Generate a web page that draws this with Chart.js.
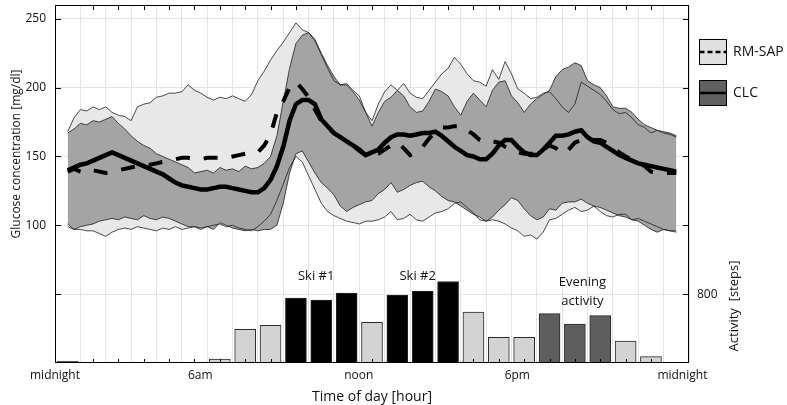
<!DOCTYPE html>
<html>
<head>
<meta charset="utf-8">
<script src="https://cdn.jsdelivr.net/npm/chart.js@4.4.1/dist/chart.umd.min.js"></script>
<style>
  html, body { margin: 0; padding: 0; background: #fff; }
  #wrap { width: 787px; height: 405px; }
</style>
</head>
<body>
<div id="wrap"><canvas id="c" width="787" height="405"></canvas></div>
<script>
// glucose traces, one value every 15 minutes from midnight to midnight
const times = Array.from({ length: 97 }, (_, i) => i / 4);

const rmHi = [168,178,184,183,186,184,186,182,180,179,176,186,188,189,193,194,196,196,197,202,198,196,193,191,
  193,192,194,192,190,195,205,212,220,227,233,240,247,242,240,234,224,214,205,202,203,198,194,182,
  176,188,197,202,198,203,196,193,192,198,204,210,214,222,217,210,205,204,201,213,206,219,210,199,
  196,192,193,196,197,192,186,182,188,204,201,198,195,190,184,181,182,178,173,171,167,169,167,166,164];

const rmLo = [99,97,97,96,96,94,92,95,97,98,97,99,98,97,96,98,97,99,97,98,99,97,99,100,
  101,99,100,98,97,96,99,103,108,118,130,142,150,146,136,126,116,110,107,105,103,102,101,103,
  103,104,106,110,104,105,108,104,103,106,109,110,112,116,117,113,109,104,103,104,103,101,98,96,
  92,93,90,95,104,105,108,111,113,110,111,114,110,107,106,108,108,104,105,103,101,99,97,96,95];

const clcHi = [167,170,174,173,176,175,177,179,174,170,165,161,158,156,152,150,148,146,144,142,138,139,140,138,
  142,140,141,139,143,141,142,145,150,165,190,214,232,238,240,235,225,216,208,202,202,197,191,182,
  172,182,190,193,198,194,186,182,183,190,199,197,194,186,180,190,196,191,186,198,204,205,194,189,
  182,188,192,195,198,208,213,215,218,216,205,202,200,194,186,185,185,182,177,173,171,169,168,167,165];

const clcLo = [101,97,99,100,101,103,104,105,104,106,105,104,107,105,104,106,105,103,101,99,99,98,99,97,
  102,100,98,97,96,97,96,97,97,100,116,138,152,154,146,138,131,127,122,114,110,113,115,117,
  118,123,126,131,124,126,129,131,132,128,125,121,118,117,114,111,108,106,103,106,111,115,120,118,
  112,107,104,106,112,111,116,117,117,119,116,114,113,111,109,107,106,104,103,100,97,95,97,96,96];

const rmMean = [139,141,139,138,140,139,138,139,140,141,142,143,144,144,145,146,147,148,149,149,148,148,149,149,
  149,149,150,151,152,152,153,158,166,182,190,200,204,199,193,184,176,171,167,164,161,158,154,151,
  150,152,155,158,160,156,151,153,157,163,168,171,171,172,172,169,166,162,160,161,160,157,155,153,
  152,152,152,155,158,156,152,155,160,162,163,162,162,160,156,153,150,148,146,143,139,138,138,138,138];

const clcMean = [140,142,144,145,147,149,151,153,151,149,147,145,143,141,139,137,134,131,129,128,127,126,126,127,
  128,128,127,126,125,124,124,127,133,143,157,176,188,191,191,188,177,172,167,164,161,158,155,151,
  153,155,160,164,166,166,165,166,167,167,168,165,161,157,154,151,150,148,148,152,158,162,162,157,
  153,151,151,155,160,165,165,166,168,169,164,161,160,157,154,151,149,147,145,144,143,142,141,140,139];

// hourly activity
const hours = [0,1,2,3,4,5,6,7,8,9,10,11,12,13,14,15,16,17,18,19,20,21,22,23];
const steps = [20,8,5,4,2,2,45,390,437,753,730,812,472,788,835,947,593,297,297,573,453,550,254,75];
const stepKind = ['rest','rest','rest','rest','rest','rest','rest','rest','rest','ski','ski','ski','rest','ski','ski','ski',
  'rest','rest','rest','evening','evening','evening','rest','rest'];

const glucoseTicks = [50, 100, 150, 200, 250];
const timeTicks = [0, 5.5, 11.5, 17.5, 23.75];
const timeLabels = ['midnight', '6am', 'noon', '6pm', 'midnight'];

const FONT = '"Open Sans", "DejaVu Sans", sans-serif';
const C = {
  rmBand : '#e8e8e8',
  clcBand: '#a4a4a4',
  edge   : '#1e1e1e',
  grid   : '#e4e4e4',
  bar    : { rest: '#d3d3d3', ski: '#000000', evening: '#5e5e5e' }
};

const pts = arr => arr.map((v, i) => ({ x: times[i], y: v }));

function edge(data, order) {
  return { type: 'line', data: pts(data), borderColor: C.edge, borderWidth: 0.8, pointRadius: 0, fill: false, order: order };
}

// no label padding, the plot box is fixed by hand
function noPad(s) { s.paddingTop = 0; s.paddingBottom = 0; s.paddingLeft = 0; s.paddingRight = 0; }

const decor = {
  id: 'decor',
  afterDraw(chart) {
    const { ctx, chartArea: a, scales } = chart;
    const line = (x1, y1, x2, y2) => { ctx.beginPath(); ctx.moveTo(x1, y1); ctx.lineTo(x2, y2); ctx.stroke(); };
    ctx.save();
    ctx.strokeStyle = '#000';
    ctx.lineWidth = 1;
    ctx.strokeRect(a.left + 0.5, a.top + 0.5, a.right - a.left - 1, a.bottom - a.top - 1);

    for (let h = 1; h < 24; h++) {
      const x = Math.round(scales.x.getPixelForValue(h)) + 0.5;
      line(x, a.top, x, a.top + 5);
      line(x, a.bottom, x, a.bottom - 4);
    }
    glucoseTicks.forEach(g => {
      const y = Math.round(scales.y.getPixelForValue(g)) + 0.5;
      line(a.left, y, a.left + 6, y);
      line(a.right, y, a.right - 6, y);
    });

    // axis titles
    ctx.fillStyle = '#111';
    ctx.font = '14px ' + FONT;
    ctx.textAlign = 'center';
    ctx.textBaseline = 'middle';
    ctx.fillText('Time of day [hour]', (a.left + a.right) / 2, 397);
    ctx.font = '13px ' + FONT;
    ctx.save();
    ctx.font = '12px ' + FONT;
    ctx.translate(17, 154);
    ctx.rotate(-Math.PI / 2);
    ctx.fillText('Glucose concentration [mg/dl]', 0, 0);
    ctx.restore();
    ctx.save();
    ctx.translate(734, 306);
    ctx.rotate(-Math.PI / 2);
    ctx.fillText('Activity  [steps]', 0, 0);
    ctx.restore();

    // activity annotations
    const ax = scales.x, ay = scales.y2;
    ctx.fillText('Ski #1', ax.getPixelForValue(9.8), ay.getPixelForValue(1010));
    ctx.fillText('Ski #2', ax.getPixelForValue(13.8), ay.getPixelForValue(1010));
    ctx.fillText('Evening', ax.getPixelForValue(20.3), ay.getPixelForValue(940));
    ctx.fillText('activity', ax.getPixelForValue(20.3), ay.getPixelForValue(720));

    // legend
    ctx.textAlign = 'left';
    ctx.fillStyle = '#e0e0e0';
    ctx.fillRect(699.5, 39.5, 27, 25);
    ctx.strokeRect(699.5, 39.5, 27, 25);
    ctx.lineWidth = 2.5;
    ctx.setLineDash([5, 3]);
    line(699.5, 52, 726.5, 52);
    ctx.setLineDash([]);
    ctx.lineWidth = 1;
    ctx.fillStyle = '#606060';
    ctx.fillRect(699.5, 80.5, 27, 25);
    ctx.strokeRect(699.5, 80.5, 27, 25);
    ctx.lineWidth = 2.5;
    line(699.5, 93, 726.5, 93);
    ctx.fillStyle = '#111';
    ctx.font = '14px ' + FONT;
    ctx.fillText('RM-SAP', 733, 52);
    ctx.fillText('CLC', 733, 93);
    ctx.restore();
  }
};

new Chart(document.getElementById('c').getContext('2d'), {
  data: {
    datasets: [
      { type: 'line', data: pts(rmHi), borderWidth: 0, pointRadius: 0, backgroundColor: C.rmBand, fill: 1, order: 20 },
      edge(rmLo, 6),
      { type: 'line', data: pts(clcHi), borderWidth: 0, pointRadius: 0, backgroundColor: C.clcBand, fill: 3, order: 19 },
      edge(clcLo, 6),
      edge(rmHi, 6),
      edge(clcHi, 6),
      {
        type: 'line', label: 'RM-SAP', data: pts(rmMean), borderColor: '#000', borderWidth: 4,
        borderDash: [14, 14], pointRadius: 0, fill: false, order: 2
      },
      {
        type: 'line', label: 'CLC', data: pts(clcMean), borderColor: '#000', borderWidth: 4.5,
        pointRadius: 0, fill: false, order: 1
      },
      {
        type: 'bar', data: hours.map((h, i) => ({ x: h, y: steps[i] })), yAxisID: 'y2',
        backgroundColor: stepKind.map(k => C.bar[k]), borderColor: '#2a2a2a', borderWidth: 1,
        barThickness: 21, order: 10
      }
    ]
  },
  options: {
    responsive: false,
    animation: false,
    layout: { padding: { top: 5, left: 0, right: 0, bottom: 0 } },
    plugins: { legend: { display: false }, tooltip: { enabled: false } },
    scales: {
      x: {
        type: 'linear', position: 'bottom', min: 0, max: 24,
        grid: { color: C.grid, drawTicks: false },
        border: { display: false },
        ticks: { display: false, stepSize: 1 },
        afterFit: s => { s.height = 0; noPad(s); }
      },
      x2: {
        type: 'linear', position: 'bottom', min: 0, max: 24,
        grid: { display: false, drawTicks: false },
        border: { display: false },
        afterBuildTicks: s => { s.ticks = timeTicks.map(v => ({ value: v })); },
        ticks: {
          autoSkip: false, maxRotation: 0, padding: 5, color: '#111',
          font: { family: FONT, size: 12 },
          callback: (v, i) => timeLabels[i]
        },
        afterFit: s => { s.height = 42; noPad(s); }
      },
      y: {
        position: 'left', min: 0, max: 260,
        grid: { color: C.grid, drawTicks: false },
        border: { display: false },
        afterBuildTicks: s => { s.ticks = glucoseTicks.map(v => ({ value: v })); },
        ticks: {
          padding: 9, color: '#111', font: { family: FONT, size: 12 },
          callback: v => (v >= 100 ? String(v) : '')
        },
        afterFit: s => { s.width = 55; noPad(s); }
      },
      y2: {
        position: 'right', min: 0, max: 4160,
        grid: { display: false, drawTicks: false },
        border: { display: false },
        afterBuildTicks: s => { s.ticks = [{ value: 800 }]; },
        ticks: { padding: 8, color: '#111', font: { family: FONT, size: 12 } },
        afterFit: s => { s.width = 98; noPad(s); }
      }
    }
  },
  plugins: [decor]
});
</script>
</body>
</html>
